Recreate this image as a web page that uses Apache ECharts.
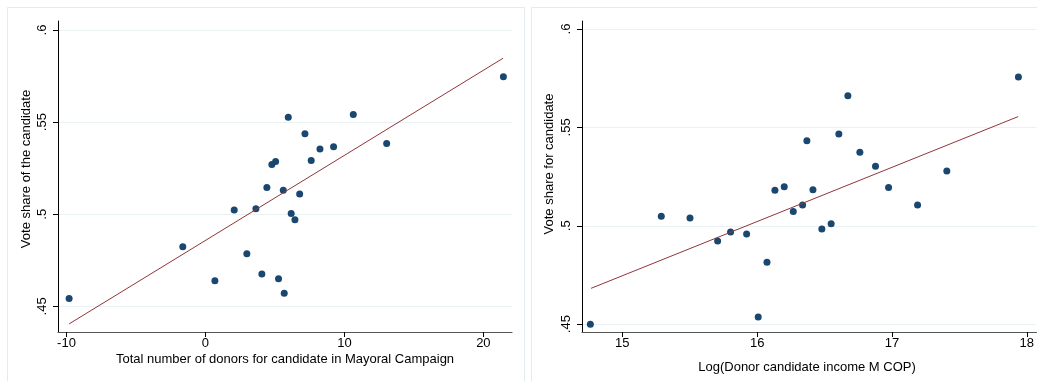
<!DOCTYPE html>
<html>
<head>
<meta charset="utf-8">
<script src="https://cdn.jsdelivr.net/npm/echarts@6/dist/echarts.min.js"></script>
<style>
  html, body { margin: 0; padding: 0; background: #ffffff; }
  #chart { width: 1037px; height: 381px; }
</style>
</head>
<body>
<div id="chart"></div>
<script>
// Left panel: number of donors vs vote share
const donorsX = [-9.81, -1.63, 0.68, 2.07, 2.98, 3.63, 4.06, 4.42, 4.78, 5.05, 5.26, 5.60,
                 5.67, 5.96, 6.17, 6.44, 6.78, 7.16, 7.61, 8.24, 9.22, 10.64, 13.04, 21.44];
const donorsShare = [0.4543, 0.4824, 0.4639, 0.5023, 0.4786, 0.5030, 0.4676, 0.5145, 0.5270, 0.5286, 0.4650, 0.5131,
                     0.4571, 0.5527, 0.5004, 0.4970, 0.5110, 0.5437, 0.5292, 0.5354, 0.5366, 0.5541, 0.5384, 0.5746];
// Linear fit endpoints (x, fitted share)
const donorsFitX = [-9.81, 21.42];
const donorsFitY = [0.4405, 0.5847];

// Right panel: log donor income vs vote share
const incomeX = [14.763, 15.289, 15.502, 15.707, 15.803, 15.922, 16.008, 16.073, 16.132, 16.201, 16.268, 16.337,
                 16.369, 16.414, 16.480, 16.549, 16.606, 16.673, 16.762, 16.878, 16.975, 17.190, 17.407, 17.938];
const incomeShare = [0.4500, 0.5049, 0.5039, 0.4922, 0.4968, 0.4958, 0.4536, 0.4814, 0.5181, 0.5198, 0.5073, 0.5105,
                     0.5432, 0.5183, 0.4983, 0.5010, 0.5466, 0.5661, 0.5374, 0.5303, 0.5195, 0.5105, 0.5279, 0.5756];
const incomeFitX = [14.768, 17.936];
const incomeFitY = [0.4682, 0.5555];

// Tick labels
const shareTicks = [0.45, 0.5, 0.55, 0.6];
const donorsTicks = [-10, 0, 10, 20];
const incomeTicks = [15, 16, 17, 18];

const FONT = 'Liberation Sans, Arial, sans-serif';
const MARKER = '#1a476f';
const FITLINE = '#90353b';
const GRIDLINE = '#eaf1f3';
const FRAME = '#e3ebee';

const zip = (xs, ys) => xs.map((x, i) => [x, ys[i]]);
const shareFmt = v => String(+v.toFixed(2)).replace(/^0\./, '.');

function xAxisCfg(gridIndex, min, max, ticks) {
  return {
    type: 'value', gridIndex, min, max,
    axisLine: { show: true, onZero: false, lineStyle: { color: '#555', width: 1.2 } },
    axisTick: { show: true, customValues: ticks, length: 5, lineStyle: { color: '#000', width: 1 } },
    axisLabel: { customValues: ticks, margin: 5, color: '#000', fontFamily: FONT, fontSize: 13,
                 formatter: v => String(v) },
    splitLine: { show: false }
  };
}
function yAxisCfg(gridIndex, min, max) {
  return {
    type: 'value', gridIndex, min, max,
    axisLine: { show: true, onZero: false, lineStyle: { color: '#000', width: 1 } },
    axisTick: { show: true, customValues: shareTicks, length: 5, lineStyle: { color: '#000', width: 1 } },
    axisLabel: { customValues: shareTicks, rotate: 90, margin: 9, color: '#000', fontFamily: FONT, fontSize: 13,
                 formatter: shareFmt },
    splitLine: { show: true, lineStyle: { color: GRIDLINE, width: 1 } }
  };
}

const chart = echarts.init(document.getElementById('chart'), null, { renderer: 'canvas' });
chart.setOption({
  animation: false,
  backgroundColor: '#ffffff',
  grid: [
    { left: 58, top: 21, width: 454, height: 311 },
    { left: 582, top: 21, width: 455, height: 311 }
  ],
  xAxis: [
    xAxisCfg(0, -10.61, 22.06, donorsTicks),
    xAxisCfg(1, 14.701, 18.072, incomeTicks)
  ],
  yAxis: [
    yAxisCfg(0, 0.4361, 0.6049),
    yAxisCfg(1, 0.446, 0.6041)
  ],
  graphic: [
    { type: 'rect', silent: true, z: -10,
      shape: { x: 7.5, y: 7.5, width: 517, height: 390 },
      style: { fill: 'none', stroke: FRAME, lineWidth: 1 } },
    { type: 'rect', silent: true, z: -10,
      shape: { x: 531.5, y: 7.5, width: 520, height: 390 },
      style: { fill: 'none', stroke: FRAME, lineWidth: 1 } },
    { type: 'text', x: 285, y: 359,
      style: { text: 'Total number of donors for candidate in Mayoral Campaign', fill: '#000',
               font: '13px ' + FONT, align: 'center', verticalAlign: 'middle' } },
    { type: 'text', x: 26, y: 169, rotation: Math.PI / 2,
      style: { text: 'Vote share of the candidate', fill: '#000',
               font: '13px ' + FONT, align: 'center', verticalAlign: 'middle' } },
    { type: 'text', x: 807, y: 367,
      style: { text: 'Log(Donor candidate income M COP)', fill: '#000',
               font: '13px ' + FONT, align: 'center', verticalAlign: 'middle' } },
    { type: 'text', x: 549, y: 164, rotation: Math.PI / 2,
      style: { text: 'Vote share for candidate', fill: '#000',
               font: '13px ' + FONT, align: 'center', verticalAlign: 'middle' } }
  ],
  series: [
    { type: 'scatter', xAxisIndex: 0, yAxisIndex: 0, symbolSize: 7,
      itemStyle: { color: MARKER, opacity: 1 }, data: zip(donorsX, donorsShare) },
    { type: 'line', xAxisIndex: 0, yAxisIndex: 0, showSymbol: false, symbol: 'none',
      lineStyle: { color: FITLINE, width: 1 }, data: zip(donorsFitX, donorsFitY) },
    { type: 'scatter', xAxisIndex: 1, yAxisIndex: 1, symbolSize: 7,
      itemStyle: { color: MARKER, opacity: 1 }, data: zip(incomeX, incomeShare) },
    { type: 'line', xAxisIndex: 1, yAxisIndex: 1, showSymbol: false, symbol: 'none',
      lineStyle: { color: FITLINE, width: 1 }, data: zip(incomeFitX, incomeFitY) }
  ]
});
</script>
</body>
</html>
